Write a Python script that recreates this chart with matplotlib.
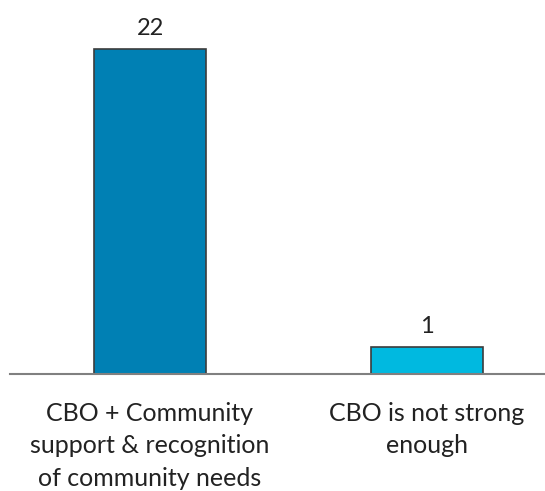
import matplotlib
matplotlib.use("Agg")
import matplotlib.pyplot as plt

plt.rcParams['font.family'] = ['Lato', 'DejaVu Sans']

categories = ['CBO + Community\nsupport & recognition\nof community needs',
              'CBO is not strong\nenough']
counts = [22, 1]
bar_colors = ['#0080b4', '#00b9e0']

# value axis does not start at zero; bars rise from the axis floor
y_floor = -0.9
y_top = 25.1

fig = plt.figure(figsize=(5.45, 4.91), dpi=100)
# axes spans from the left margin past the right edge of the figure
ax = fig.add_axes([10 / 545, 117 / 491, 535 / 545, 369 / 491])

x = list(range(len(categories)))
bars = ax.bar(x, [c - y_floor for c in counts], bottom=y_floor, width=0.404,
              color=bar_colors, edgecolor='#3c3c3c', linewidth=1.2, zorder=2)

for xi, val in zip(x, counts):
    ax.annotate(str(val), (xi, val),
                xytext=(0, 7), textcoords='offset points',
                ha='center', va='bottom', fontsize=17, color='#222222')

ax.set_xlim(-140 / 277, 1 + 118 / 277)
ax.set_ylim(y_floor, y_top)

ax.set_xticks(x)
ax.set_xticklabels(categories, fontsize=18, color='#222222',
                   linespacing=1.5)
ax.tick_params(axis='x', length=0, pad=20)
ax.set_yticks([])

for side in ['top', 'right', 'left']:
    ax.spines[side].set_visible(False)
ax.spines['bottom'].set_color('#808080')
ax.spines['bottom'].set_linewidth(1.5)

fig.savefig('out.png', dpi=100)
